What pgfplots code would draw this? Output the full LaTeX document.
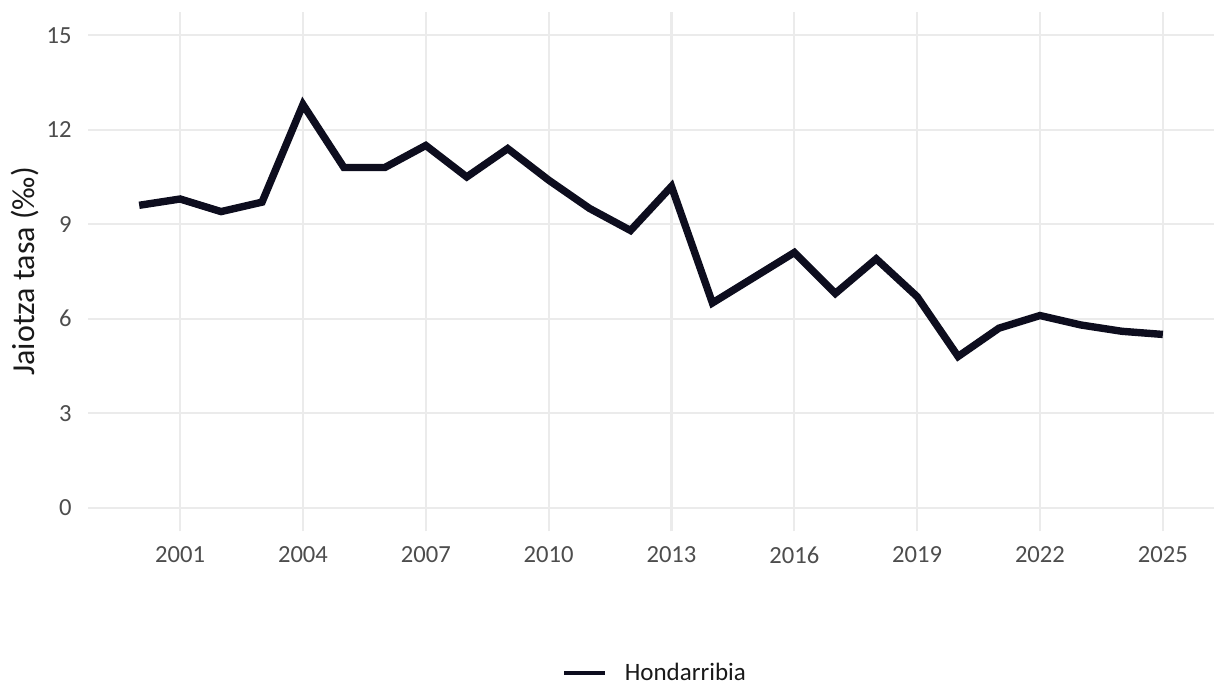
\documentclass[border=0pt]{standalone}
\usepackage{fontspec}
\setmainfont{Carlito}
\usepackage{pgfplots}
\pgfplotsset{compat=1.18}

\definecolor{linenavy}{HTML}{0D0D1E}
\definecolor{gridgray}{HTML}{EBEBEB}
\definecolor{tickgray}{HTML}{4D4D4D}

\pgfplotstableread{
year rate
2000 9.6
2001 9.8
2002 9.4
2003 9.7
2004 12.8
2005 10.8
2006 10.8
2007 11.5
2008 10.5
2009 11.4
2010 10.4
2011 9.5
2012 8.8
2013 10.2
2014 6.5
2015 7.3
2016 8.1
2017 6.8
2018 7.9
2019 6.7
2020 4.8
2021 5.7
2022 6.1
2023 5.8
2024 5.6
2025 5.5
}\hondarribia

\begin{document}
\begin{tikzpicture}
% page = 1215 x 684 px at 0.5pt per px
\useasboundingbox (0,0) rectangle (607.5pt,342pt);
\begin{axis}[
  at={(44pt,76.35pt)}, anchor=south west,
  scale only axis,
  width=563pt, height=259.85pt,
  xmin=1998.75, xmax=2026.25,
  ymin=-0.75, ymax=15.75,
  xtick={2001,2004,...,2025},
  ytick={0,3,...,15},
  grid=major,
  major grid style={line width=1.1pt, color=gridgray},
  axis line style={draw=none},
  major tick length=0pt,
  /pgf/number format/assume math mode=true,
  /pgf/number format/1000 sep={},
  ticklabel style={font=\fontsize{12.3}{14}\selectfont, text=tickgray},
  xticklabel style={anchor=north, inner sep=0pt, yshift=-7.6pt},
  yticklabel style={anchor=east, inner sep=0pt, xshift=-8pt},
  ylabel={Jaiotza tasa (‰)},
  every axis y label/.style={at={(axis description cs:-0.0435,0.5)},
    rotate=90, anchor=south, inner sep=0pt,
    font=\fontsize{16}{19}\selectfont, text=black!90},
  legend style={at={(axis description cs:0.421,-0.2727)}, anchor=west,
    draw=none, fill=none, inner sep=0pt, outer sep=0pt,
    font=\fontsize{12.5}{15}\selectfont, text=black!90,
    nodes={inner sep=0pt}, column sep=8.5pt},
  legend image code/.code={\draw[line width=2.4pt, color=linenavy] (0pt,0pt) -- (20.5pt,0pt);},
]
\addplot[color=linenavy, line width=3.7pt, line join=miter] table[x=year, y=rate] {\hondarribia};
\addlegendentry{Hondarribia}
\end{axis}
\end{tikzpicture}
\end{document}
